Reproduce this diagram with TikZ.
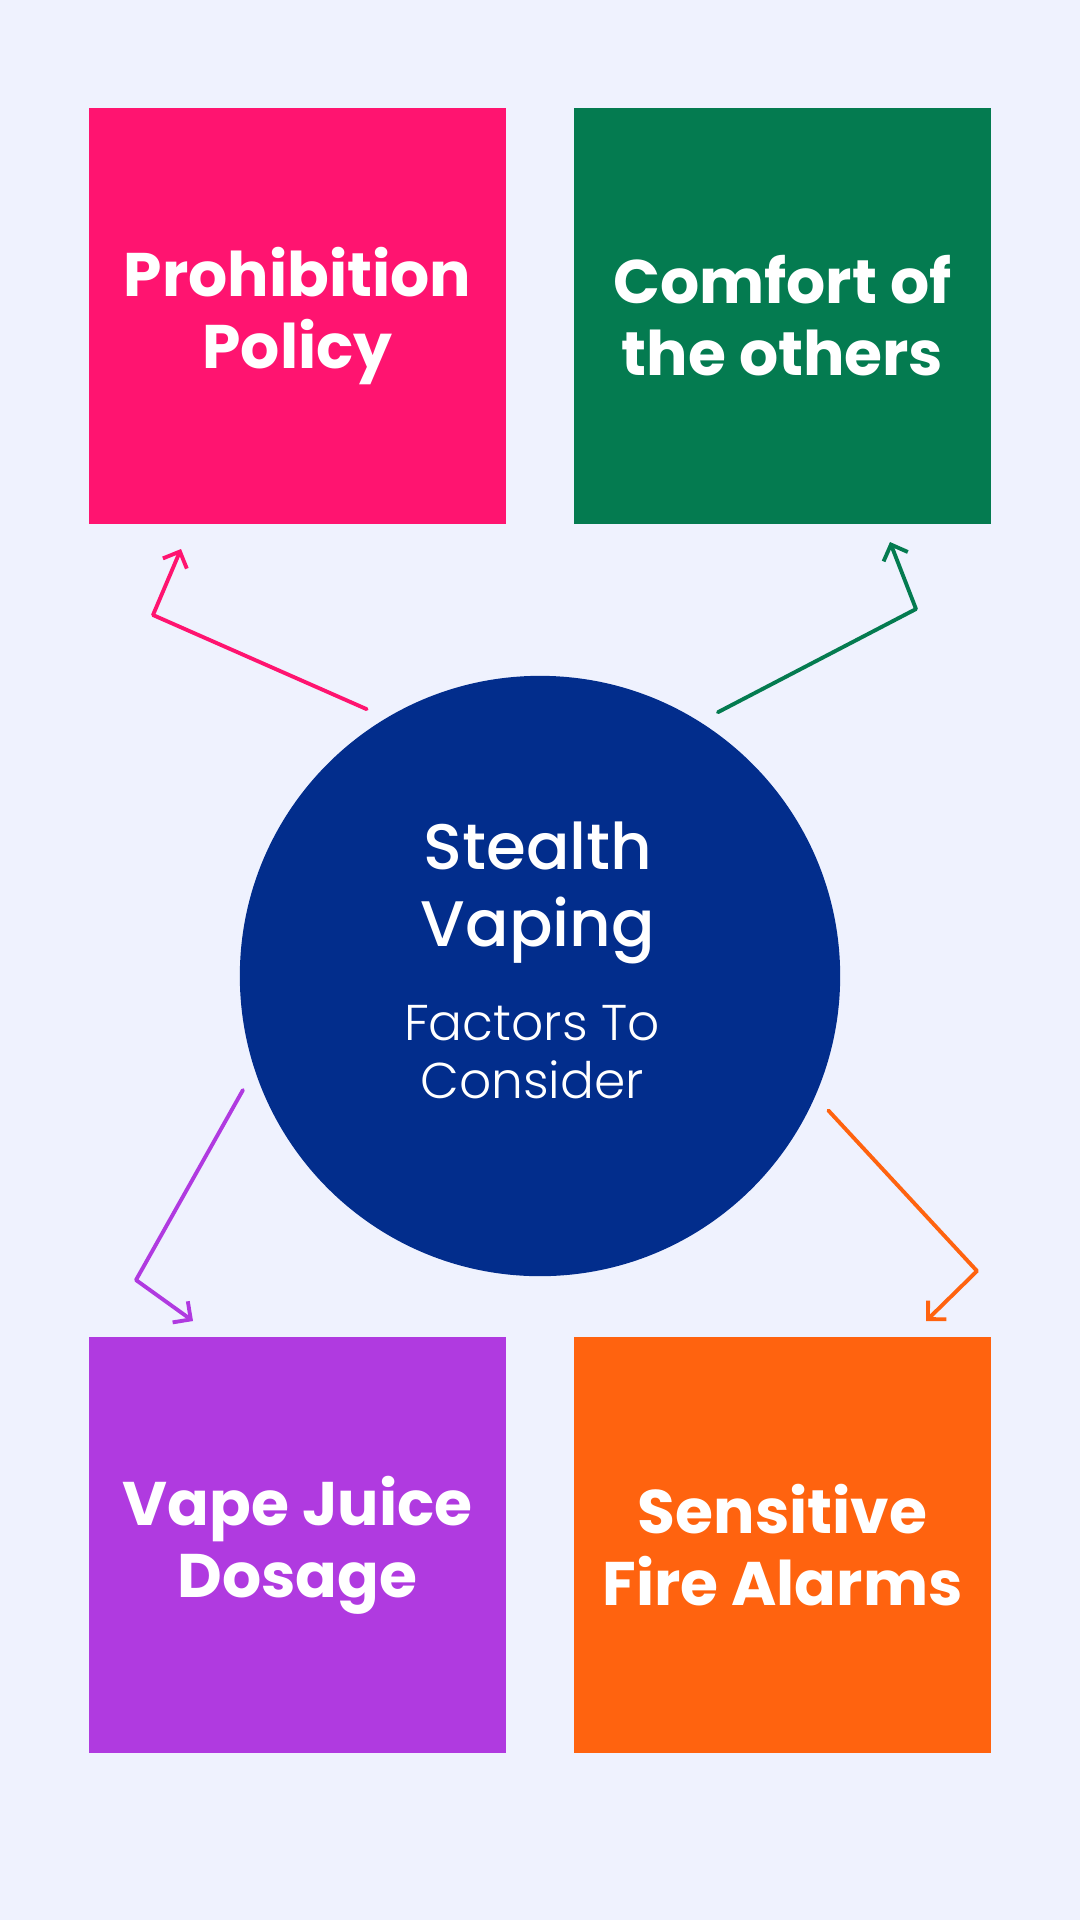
\documentclass[tikz,border=0pt]{standalone}
\usepackage{fontspec}
\usetikzlibrary{arrows.meta}
\setmainfont{Poppins}
\newfontfamily\heavyfont{Poppins}[UprightFont=* Bold]
\newfontfamily\midfont{Poppins}[UprightFont=* Medium]
\newfontfamily\thinfont{Poppins}[UprightFont=* Light]
\definecolor{bgblue}{HTML}{EFF2FE}
\definecolor{pinkbox}{HTML}{FF1470}
\definecolor{greenbox}{HTML}{047B50}
\definecolor{purplebox}{HTML}{B03AE0}
\definecolor{orangebox}{HTML}{FF630F}
\definecolor{navyhub}{HTML}{022D8C}
\begin{document}
\begin{tikzpicture}[x=0.01cm,y=-0.01cm,
  factor/.style={minimum width=4.17cm,minimum height=4.16cm,inner sep=0pt,text=white,align=center,
    font=\heavyfont\fontsize{17.5}{20.5}\selectfont},
  link/.style={line width=1.1pt,line cap=round,line join=round,-{Straight Barb[length=0.13cm,width=0.26cm]}}]

%background
\fill[bgblue] (0,0) rectangle (1080,1920);

%the four factor boxes
\node[factor,fill=pinkbox] (policy) at (297.5,316) {Prohibition\\Policy};
\node[factor,fill=greenbox] (comfort) at (782.5,316) {Comfort of\\the others};
\node[factor,fill=purplebox] (dosage) at (297.5,1545) {Vape Juice\\Dosage};
\node[factor,fill=orangebox] (alarms) at (782.5,1545) {Sensitive\\Fire Alarms};

%the hub in the middle
\node[circle,fill=navyhub,minimum size=6cm,inner sep=0pt,outer sep=0.18cm] (hub) at (540,976) {};
\node[text=white,align=center,font=\midfont\fontsize{18.3}{21.9}\selectfont] (stealth) at (538,893) {Stealth\\Vaping};
\node[text=white,align=center,font=\thinfont\fontsize{14.3}{16.5}\selectfont] (factors) at (532,1052) {Factors To\\Consider};

%bends and tips of the arrows
\coordinate (policybend) at (153,615);
\coordinate (policytip) at (181,549);
\coordinate (comfortbend) at (916,609);
\coordinate (comforttip) at (890,542);
\coordinate (dosagebend) at (136,1280);
\coordinate (dosagetip) at (193,1321);
\coordinate (alarmsbend) at (977,1271);
\coordinate (alarmstip) at (926,1321);

\draw[link,pinkbox] (hub.123) -- (policybend) -- (policytip);
\draw[link,greenbox] (hub.56) -- (comfortbend) -- (comforttip);
\draw[link,purplebox] (hub.201) -- (dosagebend) -- (dosagetip);
\draw[link,orangebox] (hub.-25) -- (alarmsbend) -- (alarmstip);

\end{tikzpicture}
\end{document}
